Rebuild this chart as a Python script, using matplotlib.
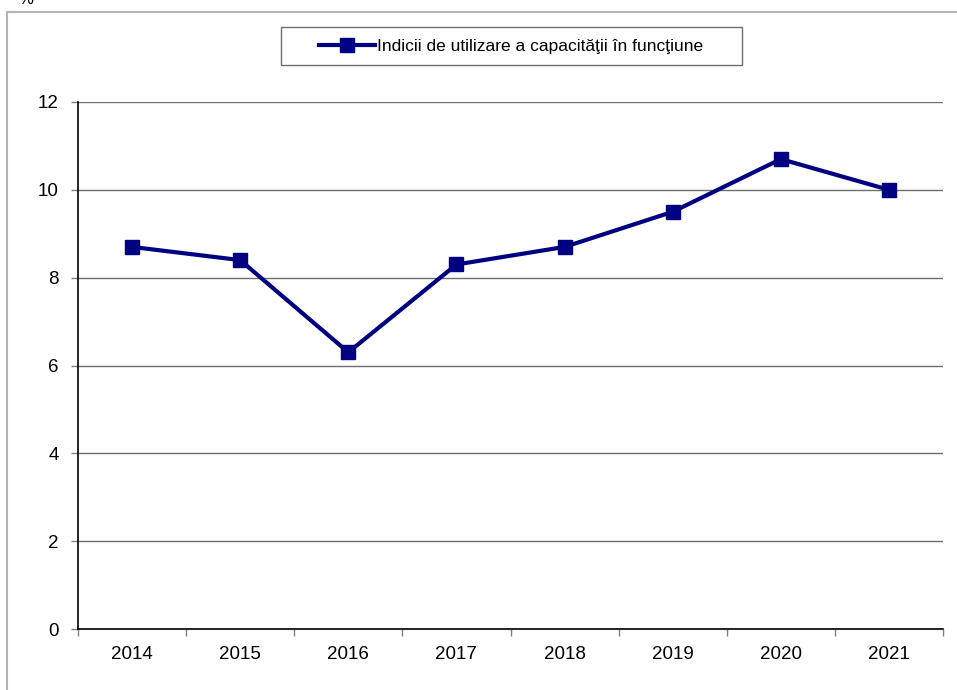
import matplotlib
matplotlib.use("Agg")
import matplotlib.pyplot as plt
from matplotlib.lines import Line2D
from matplotlib.patches import Rectangle
import numpy as np

years = ["2014", "2015", "2016", "2017", "2018", "2019", "2020", "2021"]
values = [8.7, 8.4, 6.3, 8.3, 8.7, 9.5, 10.7, 10.0]
series_name = "Indicii de utilizare a capacităţii în funcţiune"
y_ticks = [0, 2, 4, 6, 8, 10, 12]

plt.rcParams['font.family'] = ['Liberation Sans', 'DejaVu Sans']

W, H = 957, 690
fig = plt.figure(figsize=(W/100, H/100), dpi=100)
ax = fig.add_axes([78/W, 61/H, (943-78)/W, (629-102)/H])

x = np.arange(len(years))
navy = '#000080'
ax.plot(x, values, color=navy, linewidth=3, marker='s', markersize=10,
        label=series_name, zorder=3)

ax.set_xlim(-0.5, len(years) - 0.5)
ax.set_ylim(0, 12)
ax.set_yticks(y_ticks)
ax.set_yticklabels([str(t) for t in y_ticks], fontsize=13.5)
ax.set_xticks(x)
ax.set_xticklabels(years, fontsize=13.5)
ax.set_xticks(np.arange(-0.5, len(years)), minor=True)
ax.tick_params(axis='x', which='major', length=0, pad=12)
ax.tick_params(axis='x', which='minor', length=5, color='#808080', width=1)
ax.tick_params(axis='y', which='major', length=5, color='#808080', width=1, pad=9)

ax.grid(axis='y', color='#707070', linewidth=1)
ax.set_axisbelow(True)
for s in ['top', 'right']:
    ax.spines[s].set_visible(False)
for s in ['left', 'bottom']:
    ax.spines[s].set_color('black')
    ax.spines[s].set_linewidth(1.2)
    ax.spines[s].set_zorder(2.5)

leg = fig.legend(loc='center', bbox_to_anchor=(511/W, 1 - 46/H),
                 fontsize=12.5, frameon=False,
                 handlelength=3.2, handletextpad=0.1, borderpad=0.5,
                 borderaxespad=0)

# legend box drawn to the reference's size
fig.add_artist(Rectangle((281/W, 1 - 65/H), (742-281)/W, (65-27)/H,
                         transform=fig.transFigure, fill=False,
                         edgecolor='#707070', linewidth=1))

# outer frame (left and top)
fig.add_artist(Line2D([7/W, 7/W], [0, 1 - 12/H], transform=fig.transFigure,
                      color='#b5b5b5', linewidth=1.5))
fig.add_artist(Line2D([7/W, 1], [1 - 12/H, 1 - 12/H], transform=fig.transFigure,
                      color='#b5b5b5', linewidth=1.5))

fig.text(18/W, 1.0, "%", fontsize=12, ha='left', va='center')

fig.savefig("out.png", dpi=100)
